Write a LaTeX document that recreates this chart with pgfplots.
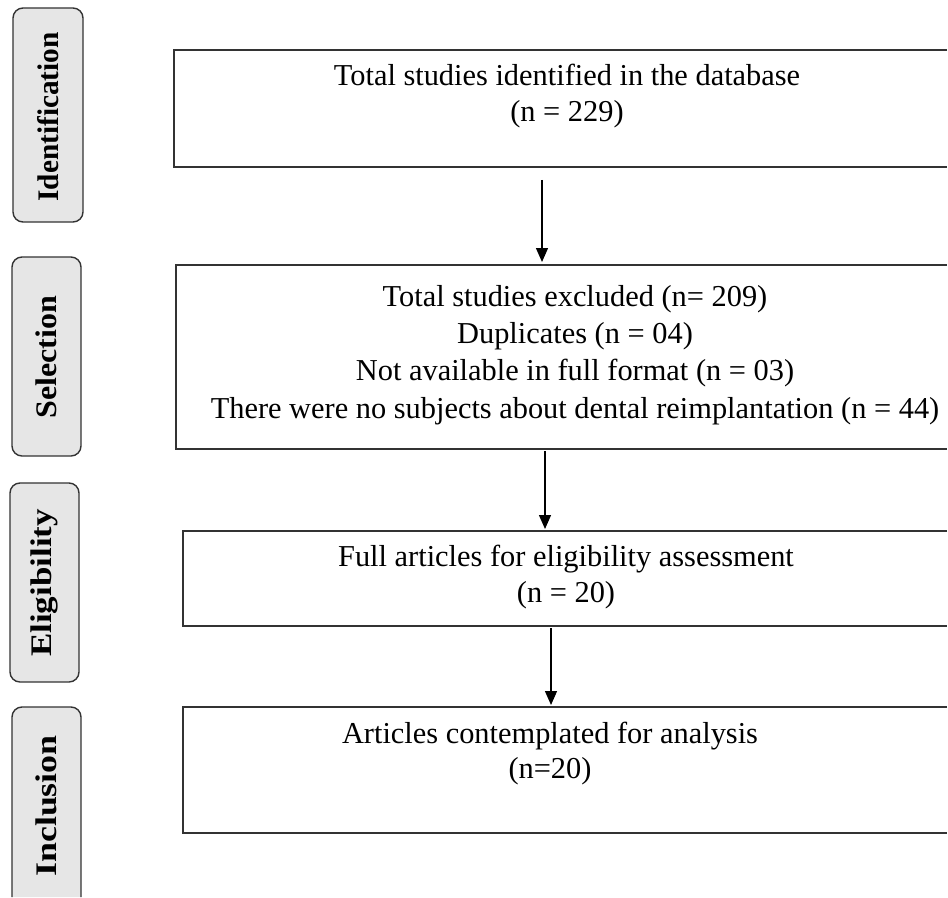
\documentclass[border=0pt]{standalone}
\usepackage{pgfplots}
\pgfplotsset{compat=1.18}
\usepackage{fontspec}
\setmainfont{Liberation Serif}
\usetikzlibrary{arrows.meta}
\definecolor{sidefill}{HTML}{E6E6E6}
\definecolor{edge}{HTML}{333333}
\begin{document}
\begin{tikzpicture}
\begin{axis}[
  width=948bp, height=898bp, scale only axis,
  xmin=0, xmax=948, ymin=0, ymax=898, y dir=reverse,
  hide axis, clip=false,
]
\path (0,0) rectangle (948,898);
% side labels
\draw[edge, line width=1.4pt, fill=sidefill, rounded corners=10pt] (13,8) rectangle (83,222);
\draw[edge, line width=1.4pt, fill=sidefill, rounded corners=10pt] (12,257) rectangle (81,456);
\draw[edge, line width=1.4pt, fill=sidefill, rounded corners=10pt] (10,483) rectangle (79,682);
\draw[edge, line width=1.4pt, fill=sidefill, rounded corners=10pt] (12,897) -- (12,707) -- (81,707) -- (81,897);
\tikzset{s/.style={rotate=90, font=\fontsize{30}{34}\selectfont\bfseries}}
\node[s, xscale=0.98] at (48,117) {Identification};
\node[s, xscale=1.07] at (46,357) {Selection};
\node[s, xscale=1.17] at (44,583) {Eligibility};
\node[s, xscale=1.2] at (46,806) {Inclusion};
% main boxes (right edges lie beyond the picture)
\draw[edge, line width=1.8pt] (947,50) -- (174,50) -- (174,167) -- (947,167);
\draw[edge, line width=1.8pt] (947,265) -- (176,265) -- (176,449) -- (947,449);
\draw[edge, line width=1.8pt] (947,531) -- (183,531) -- (183,626) -- (947,626);
\draw[edge, line width=1.8pt] (947,707) -- (183,707) -- (183,833) -- (947,833);
% arrows
\draw[black, line width=1.3pt, -{Triangle[length=14pt,width=12pt]}] (542,180) -- (542,262);
\draw[black, line width=1.3pt, -{Triangle[length=14pt,width=12pt]}] (545,451) -- (545,529);
\draw[black, line width=1.3pt, -{Triangle[length=14pt,width=12pt]}] (551,628) -- (551,705);
% texts
\tikzset{t/.style={font=\fontsize{30.5}{35}\selectfont, inner sep=0pt, anchor=base}}
\node[t] at (567,86) {Total studies identified in the database};
\node[t] at (567,122) {(n = 229)};
\node[t] at (575,306) {Total studies excluded (n= 209)};
\node[t] at (575,343) {Duplicates (n = 04)};
\node[t] at (575,380) {Not available in full format (n = 03)};
\node[t] at (575,418) {There were no subjects about dental reimplantation (n = 44)};
\node[t] at (566,566) {Full articles for eligibility assessment};
\node[t] at (566,602) {(n = 20)};
\node[t] at (550,743) {Articles contemplated for analysis};
\node[t] at (550,778) {(n=20)};
\end{axis}
\end{tikzpicture}
\end{document}
